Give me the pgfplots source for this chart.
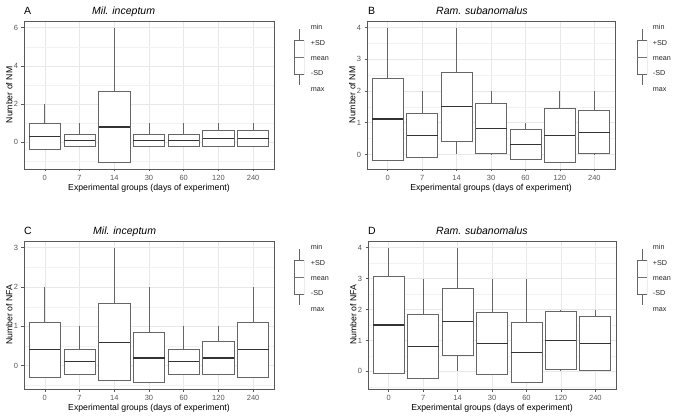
\documentclass[border=0pt]{standalone}
\usepackage{pgfplots}
\pgfplotsset{compat=1.18}
\usepgfplotslibrary{statistics}
\usepackage{fontspec}
\setmainfont{Liberation Sans}

\pgfplotsset{
  panel/.style={
    scale only axis, height=148bp,
    xmin=-0.6, xmax=6.6,
    xtick={0,...,6}, xticklabels={0,7,14,30,60,120,240},
    grid=both,
    major grid style={color=black!9, line width=0.6bp},
    minor grid style={color=black!5, line width=0.35bp},
    axis line style={draw=black!65, line width=0.7bp},
    tick style={draw=black!65, line width=0.6bp},
    major tick length=2.5bp, minor tick length=0pt,
    tick align=outside, tick pos=left,
    ticklabel style={font=\fontsize{7.5bp}{8bp}\selectfont, text=black!65},
    /pgf/number format/assume math mode=true,
    label style={font=\fontsize{8.7bp}{10bp}\selectfont},
    xlabel={Experimental groups (days of experiment)},
    xlabel style={at={(rel axis cs:0.5,0)}, yshift=-19bp, anchor=center},
    ylabel style={at={(rel axis cs:-0.059,0.5)}, anchor=center},
    boxplot/draw direction=y,
    boxplot/box extend=0.9,
    boxplot/whisker extend=0,
    boxplot/every median/.style={draw=black!80, line width=1.2bp},
  },
  bx/.style={draw=black!60, fill=white, line width=0.8bp, solid, mark=none},
  keybox/.style={
    scale only axis, width=10bp, height=56bp, hide axis,
    xmin=-0.5, xmax=0.5, ymin=0, ymax=56,
    boxplot/draw direction=y, boxplot/box extend=1, boxplot/whisker extend=0,
    boxplot/every median/.style={draw=black!55, line width=0.6bp},
  },
}

\newcommand{\keylabels}[2]{%
  \foreach \t/\dy in {min/27.3,+SD/43.3,mean/58.7,-SD/73.3,max/89.3}{%
    \node[anchor=west, inner sep=0pt, font=\fontsize{7.2bp}{8bp}\selectfont, text=black!85]
      at (#1bp, {#2 - \dy*1bp}) {\t};}%
}

\begin{document}
\begin{tikzpicture}
\path[use as bounding box] (0,0) rectangle (676bp,418bp);

% ---------------- Panel A ----------------
\begin{axis}[panel, at={(24bp,249bp)}, anchor=south west, width=250bp,
  ymin=-1.4, ymax=6.35, ytick={0,2,4,6}, minor ytick={-1,1,3,5},
  ylabel={Number of NM}]
\addplot[bx, boxplot prepared={draw position=0, lower whisker=-0.35, lower quartile=-0.35, median=0.32, upper quartile=0.97, upper whisker=2}] coordinates {};
\addplot[bx, boxplot prepared={draw position=1, lower whisker=-0.2, lower quartile=-0.2, median=0.1, upper quartile=0.42, upper whisker=1}] coordinates {};
\addplot[bx, boxplot prepared={draw position=2, lower whisker=-1.07, lower quartile=-1.07, median=0.8, upper quartile=2.67, upper whisker=6}] coordinates {};
\addplot[bx, boxplot prepared={draw position=3, lower whisker=-0.2, lower quartile=-0.2, median=0.1, upper quartile=0.42, upper whisker=1}] coordinates {};
\addplot[bx, boxplot prepared={draw position=4, lower whisker=-0.2, lower quartile=-0.2, median=0.1, upper quartile=0.42, upper whisker=1}] coordinates {};
\addplot[bx, boxplot prepared={draw position=5, lower whisker=-0.22, lower quartile=-0.22, median=0.2, upper quartile=0.62, upper whisker=1}] coordinates {};
\addplot[bx, boxplot prepared={draw position=6, lower whisker=-0.22, lower quartile=-0.22, median=0.2, upper quartile=0.62, upper whisker=1}] coordinates {};
\end{axis}

% ---------------- Panel B ----------------
\begin{axis}[panel, at={(367bp,249bp)}, anchor=south west, width=248bp,
  ymin=-0.46, ymax=4.21, ytick={0,1,2,3,4}, minor ytick={0.5,1.5,2.5,3.5},
  ylabel={Number of NM}]
\addplot[bx, boxplot prepared={draw position=0, lower whisker=-0.2, lower quartile=-0.2, median=1.12, upper quartile=2.4, upper whisker=4}] coordinates {};
\addplot[bx, boxplot prepared={draw position=1, lower whisker=-0.1, lower quartile=-0.1, median=0.6, upper quartile=1.29, upper whisker=2}] coordinates {};
\addplot[bx, boxplot prepared={draw position=2, lower whisker=0, lower quartile=0.42, median=1.51, upper quartile=2.6, upper whisker=4}] coordinates {};
\addplot[bx, boxplot prepared={draw position=3, lower whisker=0, lower quartile=0.02, median=0.81, upper quartile=1.6, upper whisker=2}] coordinates {};
\addplot[bx, boxplot prepared={draw position=4, lower whisker=-0.17, lower quartile=-0.17, median=0.31, upper quartile=0.79, upper whisker=1}] coordinates {};
\addplot[bx, boxplot prepared={draw position=5, lower whisker=-0.24, lower quartile=-0.24, median=0.6, upper quartile=1.45, upper whisker=2}] coordinates {};
\addplot[bx, boxplot prepared={draw position=6, lower whisker=0, lower quartile=0.02, median=0.7, upper quartile=1.38, upper whisker=2}] coordinates {};
\end{axis}

% ---------------- Panel C ----------------
\begin{axis}[panel, at={(24bp,29bp)}, anchor=south west, width=250bp,
  ymin=-0.59, ymax=3.17, ytick={0,1,2,3}, minor ytick={-0.5,0.5,1.5,2.5},
  ylabel={Number of NFA}]
\addplot[bx, boxplot prepared={draw position=0, lower whisker=-0.3, lower quartile=-0.3, median=0.41, upper quartile=1.11, upper whisker=2}] coordinates {};
\addplot[bx, boxplot prepared={draw position=1, lower whisker=-0.22, lower quartile=-0.22, median=0.1, upper quartile=0.41, upper whisker=1}] coordinates {};
\addplot[bx, boxplot prepared={draw position=2, lower whisker=-0.37, lower quartile=-0.37, median=0.6, upper quartile=1.58, upper whisker=3}] coordinates {};
\addplot[bx, boxplot prepared={draw position=3, lower whisker=-0.43, lower quartile=-0.43, median=0.2, upper quartile=0.84, upper whisker=2}] coordinates {};
\addplot[bx, boxplot prepared={draw position=4, lower whisker=-0.22, lower quartile=-0.22, median=0.1, upper quartile=0.41, upper whisker=1}] coordinates {};
\addplot[bx, boxplot prepared={draw position=5, lower whisker=-0.22, lower quartile=-0.22, median=0.2, upper quartile=0.62, upper whisker=1}] coordinates {};
\addplot[bx, boxplot prepared={draw position=6, lower whisker=-0.3, lower quartile=-0.3, median=0.41, upper quartile=1.11, upper whisker=2}] coordinates {};
\end{axis}

% ---------------- Panel D ----------------
\begin{axis}[panel, at={(368bp,29bp)}, anchor=south west, width=248bp,
  ymin=-0.57, ymax=4.22, ytick={0,1,2,3,4}, minor ytick={-0.5,0.5,1.5,2.5,3.5},
  ylabel={Number of NFA}]
\addplot[bx, boxplot prepared={draw position=0, lower whisker=-0.08, lower quartile=-0.08, median=1.5, upper quartile=3.08, upper whisker=4}] coordinates {};
\addplot[bx, boxplot prepared={draw position=1, lower whisker=-0.22, lower quartile=-0.22, median=0.8, upper quartile=1.83, upper whisker=3}] coordinates {};
\addplot[bx, boxplot prepared={draw position=2, lower whisker=0, lower quartile=0.53, median=1.61, upper quartile=2.68, upper whisker=4}] coordinates {};
\addplot[bx, boxplot prepared={draw position=3, lower whisker=-0.1, lower quartile=-0.1, median=0.9, upper quartile=1.9, upper whisker=3}] coordinates {};
\addplot[bx, boxplot prepared={draw position=4, lower whisker=-0.36, lower quartile=-0.36, median=0.61, upper quartile=1.57, upper whisker=3}] coordinates {};
\addplot[bx, boxplot prepared={draw position=5, lower whisker=0, lower quartile=0.06, median=1.0, upper quartile=1.95, upper whisker=2}] coordinates {};
\addplot[bx, boxplot prepared={draw position=6, lower whisker=0, lower quartile=0.03, median=0.9, upper quartile=1.77, upper whisker=2}] coordinates {};
\end{axis}

% ---------------- key glyphs ----------------
\begin{axis}[keybox, at={(294bp,333bp)}, anchor=south west]
\addplot[draw=black!60, fill=white, line width=0.8bp, boxplot prepared={draw position=0, lower whisker=0, lower quartile=11, median=27.3, upper quartile=45, upper whisker=56}] coordinates {};
\end{axis}
\begin{axis}[keybox, at={(637bp,333bp)}, anchor=south west]
\addplot[draw=black!60, fill=white, line width=0.8bp, boxplot prepared={draw position=0, lower whisker=0, lower quartile=11, median=27.3, upper quartile=45, upper whisker=56}] coordinates {};
\end{axis}
\begin{axis}[keybox, at={(294bp,113bp)}, anchor=south west]
\addplot[draw=black!60, fill=white, line width=0.8bp, boxplot prepared={draw position=0, lower whisker=0, lower quartile=11, median=27.3, upper quartile=45, upper whisker=56}] coordinates {};
\end{axis}
\begin{axis}[keybox, at={(637bp,113bp)}, anchor=south west]
\addplot[draw=black!60, fill=white, line width=0.8bp, boxplot prepared={draw position=0, lower whisker=0, lower quartile=11, median=27.3, upper quartile=45, upper whisker=56}] coordinates {};
\end{axis}

\keylabels{310.7}{418bp}
\keylabels{652.7}{418bp}
\keylabels{310.7}{198bp}
\keylabels{652.7}{198bp}

% ---------------- panel letters and titles ----------------
\begin{scope}[every node/.style={inner sep=0pt, font=\fontsize{10.5bp}{12bp}\selectfont}]
\node[anchor=base west] at (24bp,403.7bp) {A};
\node[anchor=base west] at (92bp,403.7bp) {\itshape Mil. inceptum};
\node[anchor=base west] at (368bp,403.7bp) {B};
\node[anchor=base west] at (436bp,403.7bp) {\itshape Ram. subanomalus};
\node[anchor=base west] at (24bp,183.7bp) {C};
\node[anchor=base west] at (93bp,183.7bp) {\itshape Mil. inceptum};
\node[anchor=base west] at (368bp,183.7bp) {D};
\node[anchor=base west] at (436bp,183.7bp) {\itshape Ram. subanomalus};
\end{scope}
\end{tikzpicture}
\end{document}
